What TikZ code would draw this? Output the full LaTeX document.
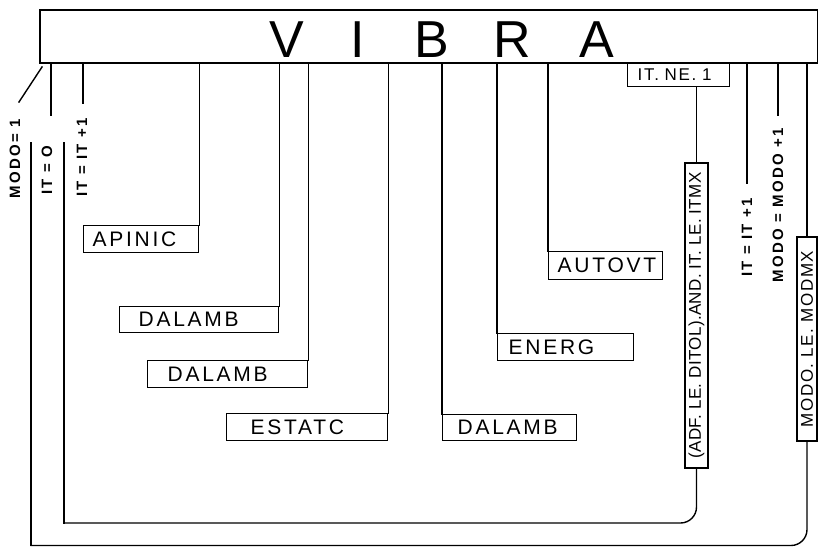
\documentclass[tikz,border=0pt]{standalone}
\usepackage{fontspec}
\setmainfont{Liberation Sans}
\newfontfamily\boxf[LetterSpace=13]{Liberation Sans}
\newfontfamily\rotf[LetterSpace=15]{Liberation Sans}
\newfontfamily\condf[LetterSpace=2]{Liberation Sans}
\newfontfamily\midf[LetterSpace=9]{Liberation Sans}
\newfontfamily\itnef[LetterSpace=10]{Liberation Sans}
\begin{document}
\begin{tikzpicture}[x=1pt,y=-1pt,
  ln/.style={line width=1.4pt, line cap=rect},
  box/.style={draw, line width=1.4pt, inner ysep=0pt, anchor=north west, align=left,
              font=\boxf\fontsize{21}{23}\selectfont},
  rbox/.style={draw, line width=1.4pt, inner sep=0pt, rotate=90, align=center},
  vlab/.style={rotate=90, inner sep=0pt, font=\rotf\bfseries\fontsize{15}{17}\selectfont},
  ttl/.style={anchor=base, inner sep=0pt, font=\fontsize{52}{56}\selectfont}]
\useasboundingbox (0,0) rectangle (818,546);

% main box
\node[draw, line width=2pt, minimum width=778pt, minimum height=53pt,
      anchor=north west, inner sep=0pt] (vibra) at (39,9) {};
\node[ttl] (tV) at (287,57) {V};
\node[ttl] (tI) at (358,57) {I};
\node[ttl] (tB) at (432,57) {B};
\node[ttl] (tR) at (512,57) {R};
\node[ttl] (tA) at (597,57) {A};

% subroutine boxes
\node[box, minimum height=27pt, inner xsep=9pt, text width=97pt] (apinic) at (83,225) {APINIC};
\node[box, minimum height=26pt, inner xsep=19pt, text width=121pt] (dal1) at (119,306) {DALAMB};
\node[box, minimum height=27pt, inner xsep=20pt, text width=120pt] (dal2) at (147,360) {DALAMB};
\node[box, minimum height=27pt, inner xsep=24pt, text width=113pt] (estatc) at (226,413) {ESTATC};
\node[box, minimum height=26pt, inner xsep=15pt, text width=104pt] (dal3) at (442,414) {DALAMB};
\node[box, minimum height=27pt, inner xsep=11pt, text width=114pt] (energ) at (497,333) {ENERG};
\node[box, minimum height=28pt, inner xsep=9pt, text width=96pt] (autovt) at (548,251) {AUTOVT};
\node[box, minimum height=24pt, inner xsep=10pt, text width=82pt,
      font=\itnef\fontsize{17}{19}\selectfont] (itne) at (627,62) {IT. NE. 1};

% condition boxes (vertical)
\node[rbox, minimum width=305pt, minimum height=23pt,
      font=\condf\fontsize{17}{19}\selectfont] (adf) at (696.5,315.5)
      {(ADF. LE. DITOL).AND. IT. LE. ITMX};
\node[rbox, minimum width=204pt, minimum height=20pt,
      font=\midf\fontsize{17}{19}\selectfont] (modmx) at (807,339)
      {MODO. LE. MODMX};

% vertical labels
\node[vlab] (modo1) at (15,158.5) {MODO= 1};
\node[vlab] (it0) at (47,170.5) {IT = O};
\node[vlab] (itp1l) at (82,157.5) {IT = IT +1};
\node[vlab] (itp1r) at (747,237.5) {IT = IT +1};
\node[vlab] (modop1) at (778,205) {MODO = MODO +1};

% free ends
\coordinate (d1) at (42,67);
\coordinate (d2) at (19,102);
\coordinate (a1) at (51,115);
\coordinate (b1) at (83,103);
\coordinate (r1) at (747,183);
\coordinate (r2) at (778,115);
\coordinate (itloop) at (64,143);
\coordinate (modoloop) at (31,143);

% connectors from main box
\draw[ln] (d1) -- (d2);
\draw[ln] (vibra.south -| a1) -- (a1);
\draw[ln] (vibra.south -| b1) -- (b1);
\draw[ln] (vibra.south -| apinic.north east) -- (apinic.north east);
\draw[ln] (vibra.south -| dal1.north east) -- (dal1.north east);
\draw[ln] (vibra.south -| dal2.north east) -- (dal2.north east);
\draw[ln] (vibra.south -| estatc.north east) -- (estatc.north east);
\draw[ln] (vibra.south -| dal3.north west) -- (dal3.north west);
\draw[ln] (vibra.south -| energ.north west) -- (energ.north west);
\draw[ln] (vibra.south -| autovt.north west) -- (autovt.north west);
\draw[ln] (itne.south -| adf.east) -- (adf.east);
\draw[ln] (vibra.south -| r1) -- (r1);
\draw[ln] (vibra.south -| r2) -- (r2);
\draw[ln] (vibra.south -| modmx.east) -- (modmx.east);

% loops back
\draw[ln, rounded corners=16pt] (adf.west) -- (adf.west |- 0,523) -- (itloop |- 0,523);
\draw[ln] (itloop |- 0,523) -- (itloop);
\draw[ln, rounded corners=16pt] (modmx.west) -- (modmx.west |- 0,545.5) -- (modoloop |- 0,545.5);
\draw[ln] (modoloop |- 0,545.5) -- (modoloop);
\end{tikzpicture}
\end{document}
